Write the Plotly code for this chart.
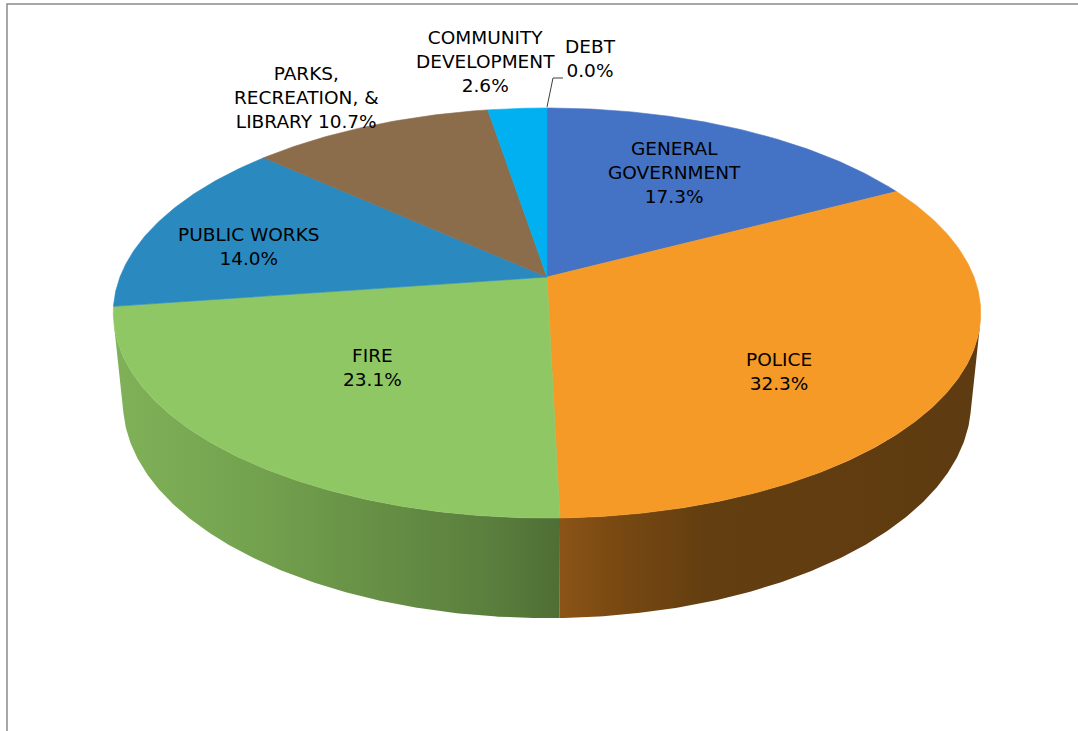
import numpy as np
import plotly.graph_objects as go

# ---------------- data ----------------
categories = ["GENERAL GOVERNMENT", "POLICE", "FIRE", "PUBLIC WORKS",
              "PARKS, RECREATION, & LIBRARY", "COMMUNITY DEVELOPMENT", "DEBT"]
shares = [17.3, 32.3, 23.1, 14.0, 10.7, 2.6, 0.0]
label_names = ["GENERAL<br>GOVERNMENT<br>", "POLICE<br>", "FIRE<br>", "PUBLIC WORKS<br>",
               "PARKS,<br>RECREATION, &<br>LIBRARY ", "COMMUNITY<br>DEVELOPMENT<br>", "DEBT<br>"]

# ---------------- style ----------------
top_colors = ["#4472C4", "#F59A27", "#8FC764", "#2A8AC0", "#8B6C4B", "#00B0F0", "#7F7F7F"]
wall_scales = {
    1: [[0, "#8C5417"], [0.12, "#7A4A12"], [0.35, "#633E10"], [1, "#5E3B10"]],
    2: [[0, "#80B158"], [0.3, "#74A34F"], [0.6, "#668F45"], [0.85, "#5A7E3D"], [1, "#4F6E35"]],
}
label_pos = [(674, 172), (779, 371), (372, 367), (249, 246), (306, 97), (485, 61), (590, 58)]

W, H = 1078, 731
CX, CY = 547, 277
DIST = 5.04
SIN_PHI = 0.4654
COS_PHI = np.sqrt(1 - SIN_PHI ** 2)
FOC = 2152
DEPTH = 0.238


def proj(theta_deg, r=1.0, z=0.0):
    t = np.radians(theta_deg)
    x = r * np.sin(t)
    y = -r * np.cos(t)
    d = DIST - y * COS_PHI - z * SIN_PHI
    X = CX + FOC * x / d
    Y = CY + FOC * (y * SIN_PHI - z * COS_PHI) / d
    return X, Y


total = sum(shares)
bounds = np.concatenate([[0], np.cumsum(shares)]) / total * 360.0

# visible front wall limits (silhouette generators)
ys = 1.0 / (DIST * COS_PHI)
vis_a = 180 - np.degrees(np.arccos(ys))
vis_b = 180 + np.degrees(np.arccos(ys))

fig = go.Figure()

# walls
for i in range(len(shares)):
    a, b = max(bounds[i], vis_a), min(bounds[i + 1], vis_b)
    if b <= a:
        continue
    th = np.linspace(a, b, int((b - a) * 2) + 2)
    xt, yt = proj(th)
    xb, yb = proj(th[::-1], z=-DEPTH)
    xs = np.concatenate([xt, xb, xt[:1]])
    yv = np.concatenate([yt, yb, yt[:1]])
    scale = wall_scales.get(i, [[0, top_colors[i]], [1, top_colors[i]]])
    fig.add_trace(go.Scatter(
        x=xs, y=yv, mode="lines", fill="toself",
        line=dict(width=0, color=scale[-1][1]),
        fillgradient=dict(type="horizontal", colorscale=scale),
        hoverinfo="skip", showlegend=False))

# top faces
for i in range(len(shares)):
    a, b = bounds[i], bounds[i + 1]
    if b - a <= 0:
        continue
    th = np.linspace(a, b, int((b - a) * 2) + 2)
    xr, yr = proj(th)
    xs = np.concatenate([[CX], xr, [CX]])
    yv = np.concatenate([[CY], yr, [CY]])
    fig.add_trace(go.Scatter(
        x=xs, y=yv, mode="lines", fill="toself",
        fillcolor=top_colors[i], line=dict(width=0.6, color=top_colors[i]),
        hoverinfo="skip", showlegend=False, name=categories[i]))

# leader line for the zero-size DEBT slice
rx, ry = proj(bounds[-2] if shares[-1] == 0 else (bounds[-2] + bounds[-1]) / 2)
fig.add_trace(go.Scatter(
    x=[rx, rx + 6, rx + 16], y=[ry - 1, 78, 78], mode="lines",
    line=dict(color="#404040", width=1), hoverinfo="skip", showlegend=False))

# labels
for i in range(len(shares)):
    fig.add_annotation(
        x=label_pos[i][0], y=label_pos[i][1], xref="x", yref="y",
        text=f"{label_names[i]}{shares[i]:.1f}%", showarrow=False,
        xanchor="center", yanchor="middle", align="center",
        font=dict(family="DejaVu Sans", size=18.5, color="#000000"))

# chart border
fig.add_shape(type="rect", xref="x", yref="y", x0=7, y0=4, x1=W + 10, y1=H + 10,
              line=dict(color="#8A8A8A", width=1.5), fillcolor="rgba(0,0,0,0)")

fig.update_xaxes(range=[0, W], visible=False, fixedrange=True)
fig.update_yaxes(range=[H, 0], visible=False, fixedrange=True)
fig.update_layout(width=W, height=H, margin=dict(l=0, r=0, t=0, b=0),
                  paper_bgcolor="white", plot_bgcolor="white", showlegend=False)

fig.write_html("out.html")
